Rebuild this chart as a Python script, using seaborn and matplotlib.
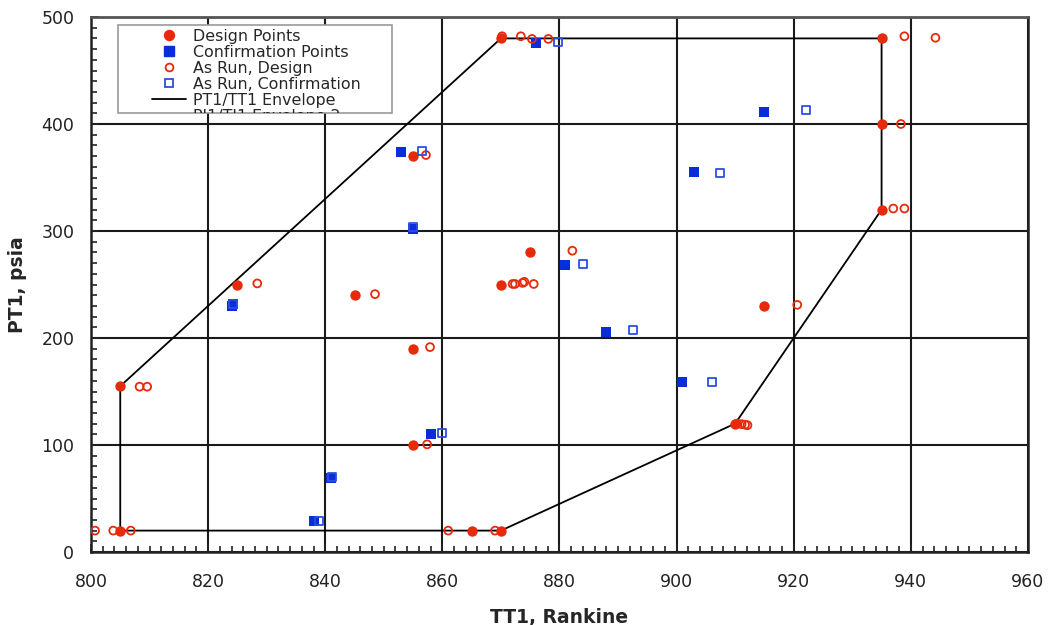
import numpy as np
import matplotlib.pyplot as plt
import seaborn as sns
from matplotlib.lines import Line2D
from matplotlib.patches import Rectangle
from matplotlib.ticker import MultipleLocator

# ==========================================
# Data (TT1 in Rankine, PT1 in psia)
# ==========================================
design_tt1 = [805, 805, 825, 845, 855, 855, 855, 865, 870, 870, 870, 875, 910, 915, 935, 935, 935]
design_pt1 = [155, 20, 250, 240, 370, 190, 100, 20, 20, 480, 250, 280, 120, 230, 480, 400, 320]

conf_tt1 = [838, 841, 858, 824, 824.3, 853, 855, 876, 881, 888, 901, 903, 915]
conf_pt1 = [29, 69, 110, 230, 232, 374, 302, 476, 268, 206, 159, 355, 411]

run_design_tt1 = [800.7, 803.8, 806.8, 808.3, 809.6, 828.4, 848.5, 857.2, 857.9, 857.4,
                  861, 869, 872.0, 872.4, 873.7, 874.0, 875.6, 882.2, 870.2, 873.4,
                  875.3, 878.1, 910.3, 911.1, 911.7, 912.1, 920.6, 938.9, 944.2, 938.3,
                  937.0, 938.9]
run_design_pt1 = [20, 20, 20, 154.5, 154.5, 251, 241, 371, 191.5, 100.6,
                  20, 20, 250.5, 250.5, 251.5, 252.5, 250.5, 281.6, 482, 482,
                  479.5, 479.5, 120, 119.5, 119, 118.5, 231, 482, 480.6, 400,
                  321, 321]

run_conf_tt1 = [839, 841.2, 859.9, 824.3, 856.5, 855, 879.7, 884, 892.6, 906, 907.4, 922.1]
run_conf_pt1 = [29, 70, 111, 232, 375, 304, 477, 269, 207.5, 159, 354, 413]

env_tt1 = [805, 805, 870, 935, 935, 910, 870, 805]
env_pt1 = [20, 155, 480, 480, 320, 120, 20, 20]

legend_labels = ["Design Points", "Confirmation Points", "As Run, Design",
                 "As Run, Confirmation", "PT1/TT1 Envelope", "PI1/TI1 Envelope 2"]

red = "#e62a0a"
blue = "#0a2ddc"
blue_open = "#2c4fe0"

# ==========================================
# Plot
# ==========================================
sns.set_style("white")
plt.rcParams['font.family'] = ['DejaVu Sans']

fig = plt.figure(figsize=(10.48, 6.25), dpi=100)
ax = fig.add_axes([0.0868, 0.1168, 0.8941, 0.856])

sns.lineplot(x=env_tt1, y=env_pt1, sort=False, estimator=None, color="black",
             linewidth=1.3, ax=ax, zorder=2)
sns.scatterplot(x=design_tt1, y=design_pt1, marker="o", s=56, color=red,
                linewidth=0, ax=ax, zorder=3)
sns.scatterplot(x=conf_tt1, y=conf_pt1, marker="s", s=48, color=blue,
                linewidth=0, ax=ax, zorder=3)
sns.scatterplot(x=run_design_tt1, y=run_design_pt1, marker="o", s=32,
                facecolors="none", edgecolor=red, linewidth=1.3, ax=ax, zorder=4)
sns.scatterplot(x=run_conf_tt1, y=run_conf_pt1, marker="s", s=32,
                facecolors="none", edgecolor=blue_open, linewidth=1.3, ax=ax, zorder=4)

ax.set_xlim(800, 960)
ax.set_ylim(0, 500)
ax.xaxis.set_major_locator(MultipleLocator(20))
ax.xaxis.set_minor_locator(MultipleLocator(2))
ax.yaxis.set_major_locator(MultipleLocator(100))
ax.yaxis.set_minor_locator(MultipleLocator(10))
ax.set_axisbelow(True)
ax.grid(True, which="major", color="#1a1a1a", linewidth=1.5)

ax.tick_params(which="both", direction="in", bottom=True, left=True,
               top=False, right=False, colors="#222222")
ax.tick_params(which="major", length=6, width=1.4, labelsize=12.5)
ax.tick_params(axis="x", which="major", pad=15)
ax.tick_params(axis="y", which="major", pad=12)
ax.tick_params(which="minor", length=4, width=1.2)

for side in ["left", "right", "bottom"]:
    ax.spines[side].set_color("#222222")
    ax.spines[side].set_linewidth(1.8)
ax.spines["top"].set_color("#555555")
ax.spines["top"].set_linewidth(2)

ax.set_xlabel("TT1, Rankine", fontsize=13.5, fontweight="bold", labelpad=12)
ax.set_ylabel("PT1, psia", fontsize=13.5, fontweight="bold", labelpad=10)

# legend box is smaller than its contents, so the last entry gets cut off
handles = [
    Line2D([], [], ls="none", marker="o", ms=7.2, color=red),
    Line2D([], [], ls="none", marker="s", ms=6.5, color=blue),
    Line2D([], [], ls="none", marker="o", ms=5.6, mfc="none", mec=red, mew=1.3),
    Line2D([], [], ls="none", marker="s", ms=5.6, mfc="none", mec=blue_open, mew=1.3),
    Line2D([], [], color="black", lw=1.3),
    Line2D([], [], color="0.5", lw=1.3),
]
leg = ax.legend(handles, legend_labels, loc="upper left", bbox_to_anchor=(0.0651, 0.9776),
                frameon=False, fontsize=11.4, handlelength=2.15, handletextpad=0.45,
                labelspacing=0.06, borderpad=0, borderaxespad=0)
box = Rectangle((0.0288, 0.8206), 0.2924, 0.1644, transform=ax.transAxes,
                facecolor="white", edgecolor="#9a9a9a", linewidth=1.2, zorder=4.5)
ax.add_patch(box)
for art in leg.get_texts() + list(leg.legend_handles):
    art.set_clip_path(box)

plt.savefig("out.png", dpi=100)
